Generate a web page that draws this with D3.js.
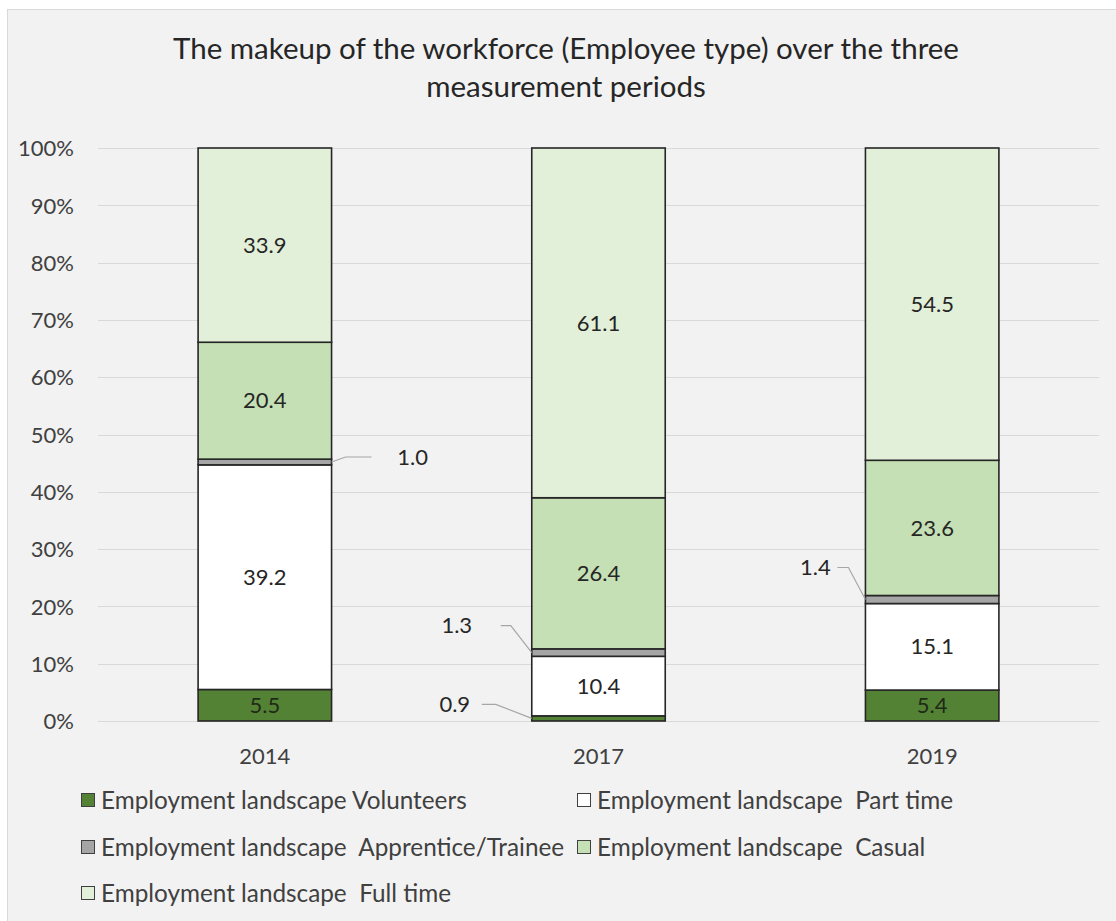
<!DOCTYPE html>
<html>
<head>
<meta charset="utf-8">
<script src="https://cdn.jsdelivr.net/npm/d3@7"></script>
<style>
  html, body { margin: 0; padding: 0; background: #ffffff; }
  svg text { font-family: Lato, "Open Sans", "Noto Sans", sans-serif; white-space: pre; }
</style>
</head>
<body>
<svg id="chart" width="1116" height="921"></svg>
<script>
// Survey periods
const years = ["2014", "2017", "2019"];

// Share of the workforce (%) per employee type, one value per period
const volunteers = [5.5, 0.9, 5.4];
const partTime   = [39.2, 10.4, 15.1];
const apprentice = [1.0, 1.3, 1.4];
const casual     = [20.4, 26.4, 23.6];
const fullTime   = [33.9, 61.1, 54.5];

const seriesNames = [
  "Employment landscape Volunteers",
  "Employment landscape  Part time",
  "Employment landscape  Apprentice/Trainee",
  "Employment landscape  Casual",
  "Employment landscape  Full time"
];
const seriesKeys = ["volunteers", "partTime", "apprentice", "casual", "fullTime"];
const seriesValues = [volunteers, partTime, apprentice, casual, fullTime];
const seriesColors = ["#548235", "#ffffff", "#a5a5a5", "#c5e0b4", "#e2f0d9"];

const yTicks = [0, 0.1, 0.2, 0.3, 0.4, 0.5, 0.6, 0.7, 0.8, 0.9, 1.0];

// Rows for the stack layout
const rows = years.map((y, i) => {
  const r = { year: y };
  seriesKeys.forEach((k, j) => { r[k] = seriesValues[j][i]; });
  return r;
});

const svg = d3.select("#chart");
const W = 1116, H = 921;

// Chart area background with a thin frame
svg.append("rect")
  .attr("x", 7.5).attr("y", 9.5)
  .attr("width", W - 6).attr("height", H)
  .attr("fill", "#f2f2f2")
  .attr("stroke", "#d9d9d9").attr("stroke-width", 1);

const font = 'Lato, "Open Sans", "Noto Sans", sans-serif';
const textColor = "#404040";
const fs = "22px";
const legendFs = "24.3px";

// Title
const title = svg.append("text")
  .attr("text-anchor", "middle")
  .attr("fill", "#262626")
  .style("font-size", "29.5px");
title.append("tspan").attr("x", 566).attr("y", 59)
  .text("The makeup of the workforce (Employee type) over the three");
title.append("tspan").attr("x", 566).attr("y", 97)
  .text("measurement periods");

// Scales
const plot = { left: 98, right: 1099, top: 148, bottom: 721 };
const x = d3.scaleBand().domain(years)
  .range([plot.left, plot.right])
  .paddingInner(0.6).paddingOuter(0.3);
const y = d3.scaleLinear().domain([0, 1]).range([plot.bottom, plot.top]);

// Gridlines
svg.append("g").selectAll("line").data(yTicks).join("line")
  .attr("x1", plot.left).attr("x2", plot.right)
  .attr("y1", d => Math.round(y(d)) + 0.5).attr("y2", d => Math.round(y(d)) + 0.5)
  .attr("stroke", "#d9d9d9").attr("stroke-width", 1.2);

// Y axis labels
const yAxis = d3.axisLeft(y).tickValues(yTicks).tickFormat(d3.format(".0%")).tickSize(0).tickPadding(0);
const gy = svg.append("g").attr("transform", `translate(${plot.left - 24},0)`).call(yAxis);
gy.select(".domain").remove();
gy.selectAll("text").attr("fill", textColor).style("font-size", fs).style("font-family", font)
  .attr("dy", "0.35em");

// X axis labels
const xAxis = d3.axisBottom(x).tickSize(0).tickPadding(0);
const gx = svg.append("g").attr("transform", `translate(0,${plot.bottom + 35})`).call(xAxis);
gx.select(".domain").remove();
gx.selectAll("text").attr("fill", textColor).style("font-size", fs).style("font-family", font)
  .attr("dy", "0.35em");

// Stacked 100% columns
const stack = d3.stack().keys(seriesKeys).offset(d3.stackOffsetExpand);
const layers = stack(rows);

const gBars = svg.append("g");
layers.forEach((layer, j) => {
  gBars.append("g").selectAll("rect").data(layer).join("rect")
    .attr("x", d => x(d.data.year))
    .attr("width", x.bandwidth())
    .attr("y", d => y(d[1]))
    .attr("height", d => y(d[0]) - y(d[1]))
    .attr("fill", seriesColors[j])
    .attr("stroke", "#262626")
    .attr("stroke-width", 1.6);
});

// Data labels: small segments get an outside label with a leader line
const outside = {
  "apprentice|2014": { side: "right", tx: 81, ty: -5, lx: [40, 14] },
  "apprentice|2017": { side: "left", tx: -75, ty: -27, lx: [-31, -21] },
  "volunteers|2017": { side: "left", tx: -77, ty: -14, lx: [-50, -36] },
  "apprentice|2019": { side: "left", tx: -50, ty: -32, lx: [-28, -17] }
};

const gLabels = svg.append("g");
layers.forEach((layer, j) => {
  const key = layer.key;
  layer.forEach((d, i) => {
    const val = seriesValues[j][i];
    const cx = x(d.data.year) + x.bandwidth() / 2;
    const cy = (y(d[0]) + y(d[1])) / 2;
    const o = outside[key + "|" + d.data.year];
    if (!o) {
      gLabels.append("text")
        .attr("x", cx).attr("y", cy)
        .attr("dy", "0.35em")
        .attr("text-anchor", "middle")
        .attr("fill", key === "volunteers" ? "#1f2a17" : "#262626")
        .style("font-size", fs)
        .text(val.toFixed(1));
    } else {
      const edge = o.side === "right" ? x(d.data.year) + x.bandwidth() : x(d.data.year);
      const ty = cy + o.ty;
      gLabels.append("path")
        .attr("d", `M${edge},${cy} L${edge + o.lx[1]},${ty} L${edge + o.lx[0]},${ty}`)
        .attr("fill", "none")
        .attr("stroke", "#a6a6a6")
        .attr("stroke-width", 1.2);
      gLabels.append("text")
        .attr("x", edge + o.tx).attr("y", ty)
        .attr("dy", "0.35em")
        .attr("text-anchor", "middle")
        .attr("fill", "#262626")
        .style("font-size", fs)
        .text(val.toFixed(1));
    }
  });
});

// Legend, two columns, filled row by row
const legendCols = [81, 577];
const legendRows = [800, 847, 893];
const sw = 13;
const gLegend = svg.append("g");
seriesNames.forEach((name, j) => {
  const lx = legendCols[j % 2];
  const ly = legendRows[Math.floor(j / 2)];
  gLegend.append("rect")
    .attr("x", lx + 0.5).attr("y", ly - sw / 2)
    .attr("width", sw).attr("height", sw)
    .attr("fill", seriesColors[j])
    .attr("stroke", "#404040").attr("stroke-width", 1);
  gLegend.append("text")
    .attr("x", lx + 20).attr("y", ly)
    .attr("dy", "0.35em")
    .attr("fill", textColor)
    .style("font-size", legendFs)
    .text(name);
});
</script>
</body>
</html>
